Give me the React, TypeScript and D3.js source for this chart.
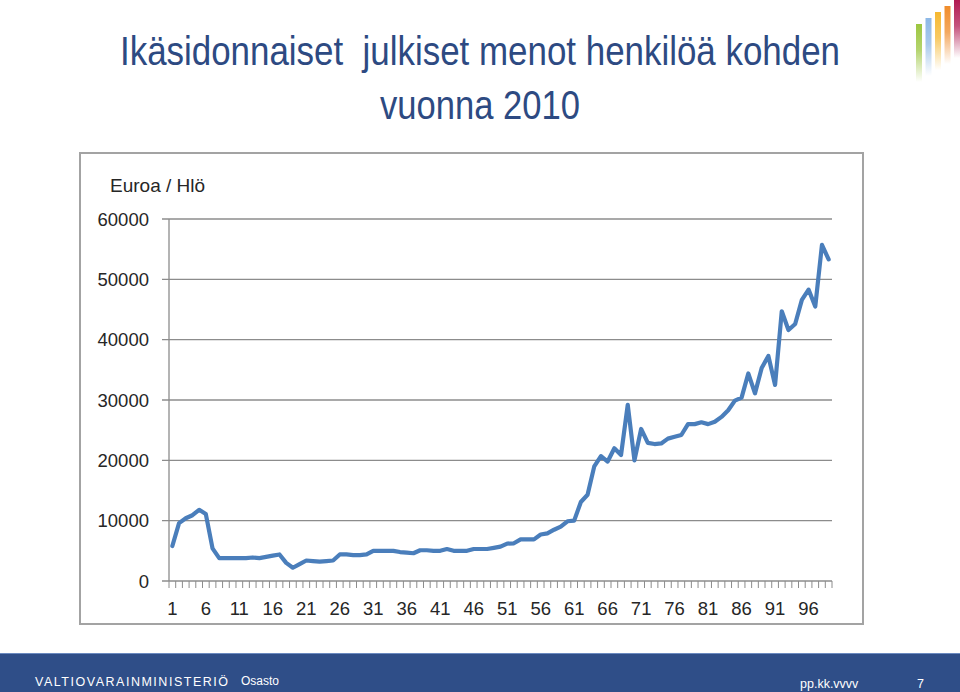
import React from "react";
import * as d3 from "d3";

const titleLines = ["Ikäsidonnaiset  julkiset menot henkilöä kohden", "vuonna 2010"];
const yAxisTitle = "Euroa / Hlö";
const ages = d3.range(1, 100);
const spending = [
  5800, 9600, 10400, 10900, 11800, 11100, 5400, 3800, 3800, 3800,
  3800, 3800, 3900, 3800, 4000, 4200, 4400, 3000, 2200, 2800,
  3400, 3300, 3200, 3300, 3400, 4400, 4400, 4300, 4300, 4400,
  5000, 5000, 5000, 5000, 4800, 4700, 4600, 5100, 5100, 5000,
  5000, 5300, 5000, 5000, 5000, 5300, 5300, 5300, 5500, 5700,
  6200, 6250, 6900, 6900, 6900, 7700, 7900, 8500, 9000, 9900,
  10000, 13100, 14300, 19000, 20700, 19800, 22000, 20900, 29200, 20000,
  25200, 22900, 22700, 22800, 23600, 23900, 24200, 26000, 26000, 26300,
  26000, 26400, 27200, 28300, 29900, 30400, 34400, 31100, 35300, 37300,
  32500, 44700, 41600, 42600, 46600, 48300, 45500, 55700, 53300,
];
const yTicks = [0, 10000, 20000, 30000, 40000, 50000, 60000];
const xTickLabels = [1, 6, 11, 16, 21, 26, 31, 36, 41, 46, 51, 56, 61, 66, 71, 76, 81, 86, 91, 96];
const footerOrg = "VALTIOVARAINMINISTERIÖ";
const footerDept = "Osasto";
const footerDate = "pp.kk.vvvv";
const footerPage = "7";
const logoColors = ["#9CC63F", "#8DB8E6", "#F6B830", "#F08C2A", "#B11A52"];

export default function App() {
  const x = d3.scaleBand<number>().domain(ages).range([169, 832]).padding(0);
  const y = d3.scaleLinear().domain([0, 60000]).range([581, 219]);
  const cx = (a: number) => (x(a) as number) + x.bandwidth() / 2;
  const line = d3
    .line<number>()
    .x((_, i) => cx(ages[i]))
    .y((d) => y(d));
  const axisFont = "'Liberation Sans', Arial, sans-serif";
  const narrowFont = "'Liberation Sans Narrow', 'Arial Narrow', 'Liberation Sans', Arial, sans-serif";
  const logoX = d3.scaleLinear().domain([0, 4]).range([916, 954]);
  const logoTop = d3.scaleLinear().domain([0, 4]).range([24, 0]);

  return (
    <svg
      width={960}
      height={692}
      style={{ position: "absolute", left: 0, top: 0, background: "#fff" }}
    >
      <defs>
        {logoColors.map((c, i) => (
          <linearGradient key={i} id={`lg${i}`} x1="0" y1="0" x2="0" y2="1">
            <stop offset="0" stopColor={c} stopOpacity={1} />
            <stop offset="0.45" stopColor={c} stopOpacity={0.75} />
            <stop offset="1" stopColor={c} stopOpacity={0} />
          </linearGradient>
        ))}
      </defs>
      <rect x={0} y={0} width={960} height={692} fill="#fff" />

      {/* logo */}
      {logoColors.map((c, i) => (
        <rect
          key={i}
          x={logoX(i)}
          y={logoTop(i)}
          width={6}
          height={58}
          fill={`url(#lg${i})`}
        />
      ))}

      {/* title */}
      <text
        x={480}
        y={65}
        textAnchor="middle"
        fill="#2D4A82"
        fontFamily={narrowFont}
        fontSize={40}
        textLength={720}
        lengthAdjust="spacingAndGlyphs"
        style={{ whiteSpace: "pre" }}
      >
        {titleLines[0]}
      </text>
      <text
        x={480}
        y={119}
        textAnchor="middle"
        fill="#2D4A82"
        fontFamily={narrowFont}
        fontSize={40}
        textLength={200}
        lengthAdjust="spacingAndGlyphs"
      >
        {titleLines[1]}
      </text>

      {/* chart frame */}
      <rect x={80} y={153} width={783} height={471} fill="#fff" stroke="#A3A3A3" strokeWidth={2} />

      <text x={110} y={192} fontFamily={axisFont} fontSize={19} fill="#262626">
        {yAxisTitle}
      </text>

      {/* gridlines + y labels */}
      {yTicks.map((t) => (
        <g key={t}>
          <line x1={162} x2={832} y1={y(t)} y2={y(t)} stroke="#8C8C8C" strokeWidth={1.3} />
          <text
            x={149}
            y={y(t)}
            dy="0.36em"
            textAnchor="end"
            fontFamily={axisFont}
            fontSize={18.5}
            fill="#262626"
          >
            {t}
          </text>
        </g>
      ))}
      <line x1={169} x2={169} y1={y(60000)} y2={y(0)} stroke="#8C8C8C" strokeWidth={1.3} />

      {/* x ticks */}
      {ages.map((a) => (
        <line
          key={a}
          x1={(x(a) as number) + x.bandwidth()}
          x2={(x(a) as number) + x.bandwidth()}
          y1={581}
          y2={588}
          stroke="#8C8C8C"
          strokeWidth={1}
        />
      ))}
      <line x1={169} x2={169} y1={581} y2={588} stroke="#8C8C8C" strokeWidth={1} />
      {xTickLabels.map((l) => (
        <text
          key={l}
          x={cx(l)}
          y={615}
          textAnchor="middle"
          fontFamily={axisFont}
          fontSize={18.5}
          fill="#262626"
        >
          {l}
        </text>
      ))}

      {/* data line */}
      <path
        d={line(spending) || ""}
        fill="none"
        stroke="#4A7EBB"
        strokeWidth={4.2}
        strokeLinejoin="round"
        strokeLinecap="round"
      />

      {/* footer */}
      <rect x={0} y={653} width={960} height={39} fill="#2F4E88" />
      <line x1={0} x2={960} y1={653.5} y2={653.5} stroke="#6B8AC0" strokeWidth={1} />
      <text
        x={35}
        y={686}
        fill="#fff"
        fontFamily={narrowFont}
        fontSize={12.5}
        textLength={193}
        lengthAdjust="spacing"
      >
        {footerOrg}
      </text>
      <text x={241} y={685} fill="#fff" fontFamily={narrowFont} fontSize={12}>
        {footerDept}
      </text>
      <text x={800} y={688} fill="#fff" fontFamily={narrowFont} fontSize={12.5}>
        {footerDate}
      </text>
      <text x={917} y={688} fill="#fff" fontFamily={narrowFont} fontSize={12.5}>
        {footerPage}
      </text>
    </svg>
  );
}
